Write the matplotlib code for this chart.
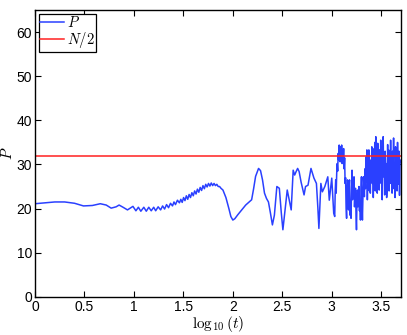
import numpy as np
import matplotlib
matplotlib.use("Agg")
import matplotlib.pyplot as plt

plt.rcParams['font.family'] = ['Liberation Sans', 'DejaVu Sans']
plt.rcParams['mathtext.fontset'] = 'cm'

# P versus log10(t)
# slow part
x_slow = [0.0, 0.1, 0.2, 0.25, 0.3, 0.4, 0.49, 0.58, 0.66, 0.72, 0.77, 0.82, 0.85, 0.89, 0.935]
p_slow = [21.1, 21.3, 21.5, 21.5, 21.5, 21.2, 20.6, 20.7, 21.1, 20.8, 20.1, 20.4, 20.8, 20.3, 19.7]

# small ripples
x_rip = [0.99, 1.02, 1.045, 1.07, 1.10, 1.125, 1.15, 1.175, 1.20, 1.22, 1.245, 1.27,
         1.29, 1.31, 1.33, 1.35, 1.37, 1.39, 1.405, 1.42, 1.44, 1.46]
p_rip = [20.5, 19.5, 20.3, 19.4, 20.3, 19.4, 20.3, 19.5, 20.3, 19.5, 20.4, 19.7,
         20.6, 19.9, 20.9, 20.2, 21.2, 20.6, 21.5, 20.9, 21.9, 21.3]

# fast ripples on the hump
x_hump = [1.474, 1.488, 1.502, 1.516, 1.530, 1.544, 1.558, 1.572, 1.586, 1.600,
          1.614, 1.628, 1.642, 1.656, 1.670, 1.684, 1.698, 1.712, 1.726, 1.740,
          1.754, 1.768, 1.782, 1.796, 1.810, 1.824, 1.838, 1.852, 1.866, 1.880]
p_hump = [22.1, 21.4, 22.5, 21.8, 22.9, 22.1, 23.2, 22.5, 23.6, 22.9,
          24.0, 23.3, 24.4, 23.7, 24.8, 24.1, 25.2, 24.5, 25.5, 24.9,
          25.7, 25.1, 25.8, 25.2, 25.7, 25.2, 25.5, 25.0, 25.0, 24.6]

# irregular part
x_mid = [1.90, 1.93, 1.96, 1.98, 2.00, 2.02, 2.05, 2.09, 2.13, 2.17, 2.19, 2.21,
         2.23, 2.26, 2.28, 2.30, 2.32, 2.34, 2.36, 2.38, 2.40, 2.42, 2.445, 2.47,
         2.49, 2.506, 2.53, 2.55, 2.57, 2.59, 2.61, 2.625, 2.64, 2.655, 2.67,
         2.69, 2.72, 2.735, 2.76, 2.79, 2.82, 2.845, 2.86, 2.87, 2.89, 2.905,
         2.93, 2.96, 2.975, 3.00, 3.02]
p_mid = [24.2, 22.5, 20.0, 18.2, 17.4, 17.7, 18.6, 19.7, 20.8, 21.6, 22.0, 24.5,
         27.3, 29.1, 28.6, 26.5, 23.5, 22.3, 21.5, 19.0, 16.3, 18.5, 25.0, 24.6,
         19.0, 15.2, 20.0, 24.2, 22.0, 19.7, 28.7, 27.6, 28.4, 29.1, 28.4,
         26.0, 23.1, 25.0, 25.3, 29.1, 26.9, 25.7, 20.0, 15.5, 25.7, 23.8,
         25.0, 27.2, 21.9, 26.9, 18.9]

# noisy tail, first half
x_tail_a = [3.030, 3.035, 3.040, 3.045, 3.050, 3.055, 3.060, 3.065, 3.070, 3.075,
            3.080, 3.085, 3.090, 3.095, 3.100, 3.105, 3.110, 3.115, 3.120, 3.125,
            3.130, 3.135, 3.140, 3.145, 3.150, 3.155, 3.160, 3.165, 3.170, 3.175,
            3.180, 3.185, 3.190, 3.195, 3.200, 3.205, 3.210, 3.215, 3.220, 3.225,
            3.230, 3.235, 3.240, 3.245, 3.250, 3.255, 3.260, 3.265, 3.270, 3.275,
            3.280, 3.285, 3.290, 3.295, 3.300]
p_tail_a = [18.2, 24.0, 26.5, 23.5, 28.0, 30.2, 28.5, 32.5, 31.0, 34.4,
            32.0, 30.6, 34.0, 31.5, 34.4, 30.2, 33.0, 30.5, 33.6, 29.0,
            31.5, 25.7, 27.0, 20.0, 17.8, 24.0, 26.5, 21.0, 19.7, 25.0,
            26.5, 18.5, 21.0, 17.8, 24.0, 28.7, 22.0, 26.0, 22.7, 27.2,
            20.4, 23.0, 24.6, 19.0, 15.2, 22.0, 24.2, 20.4, 23.0, 25.0,
            19.5, 21.5, 17.4, 24.0, 27.2]

# noisy tail, second half
x_tail_b = [3.305, 3.31, 3.32, 3.33, 3.335, 3.34, 3.345,
            3.35, 3.355, 3.36, 3.365, 3.37, 3.375, 3.38, 3.385, 3.39, 3.395, 3.40,
            3.405, 3.41, 3.415, 3.42, 3.425, 3.43, 3.435, 3.44, 3.445, 3.45, 3.455,
            3.46, 3.465, 3.47, 3.475, 3.48, 3.485, 3.49, 3.495, 3.50, 3.505, 3.51,
            3.515, 3.52, 3.525, 3.53, 3.535, 3.54, 3.545, 3.55, 3.555, 3.56, 3.565,
            3.57, 3.575, 3.58, 3.585, 3.59, 3.595, 3.60, 3.605, 3.61, 3.615, 3.62,
            3.625, 3.63, 3.635, 3.64, 3.645, 3.65, 3.655, 3.66, 3.665, 3.67, 3.675,
            3.68, 3.685, 3.69, 3.699]
p_tail_b = [21.5, 17.4, 27.2, 22.7, 29.0, 24.5, 31.7,
            26.0, 33.3, 22.0, 29.5, 26.5, 33.3, 24.0, 30.5, 23.5, 31.0, 27.0,
            34.0, 25.7, 33.6, 22.5, 31.0, 28.7, 35.0, 24.0, 36.3, 26.5, 32.0,
            23.5, 34.8, 27.0, 30.5, 24.2, 33.3, 26.0, 35.5, 25.7, 31.5, 22.0,
            34.0, 36.3, 27.2, 31.0, 23.1, 33.0, 28.0, 30.2, 22.5, 25.0, 34.5,
            27.0, 33.3, 24.0, 31.0, 25.7, 35.5, 28.0, 32.0, 23.5, 33.0, 26.5,
            36.0, 24.5, 30.2, 22.5, 34.0, 27.0, 31.5, 24.0, 35.0, 29.0, 25.5,
            33.0, 23.0, 30.2, 31.0]

x_all = np.array(x_slow + x_rip + x_hump + x_mid + x_tail_a + x_tail_b)
p_all = np.array(p_slow + p_rip + p_hump + p_mid + p_tail_a + p_tail_b)

n_half = 32

fig = plt.figure(figsize=(4.07, 3.35), dpi=100)
ax = fig.add_axes([0.086, 0.114, 0.899, 0.856])

ax.plot(x_all, p_all, color='#2a40ff', lw=1.1, label='$P$')
ax.axhline(n_half, color='#ff2020', lw=1.1, label='$N/2$')

ax.set_xlim(0, np.log10(5000))
ax.set_ylim(0, 65)
ax.set_xticks([0, 0.5, 1, 1.5, 2, 2.5, 3, 3.5])
ax.set_xticklabels(['0', '0.5', '1', '1.5', '2', '2.5', '3', '3.5'])
ax.set_yticks([0, 10, 20, 30, 40, 50, 60])
ax.tick_params(direction='in', top=True, right=True, length=4, width=0.8,
               labelsize=10, pad=2)
for s in ax.spines.values():
    s.set_linewidth(1.0)

ax.set_xlabel(r'$\log_{10}(t)$', fontsize=11, labelpad=0)
ax.set_ylabel(r'$P$', fontsize=11, labelpad=1)

leg = ax.legend(loc='upper left', fontsize=10.5, handlelength=1.65,
                borderaxespad=0.27, borderpad=0.1, labelspacing=0.0,
                handletextpad=0.2, fancybox=False, framealpha=1)
leg.get_frame().set_edgecolor('black')
leg.get_frame().set_linewidth(0.9)

fig.savefig('out.png', dpi=100)
